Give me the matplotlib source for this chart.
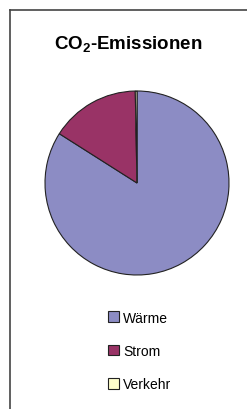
import matplotlib
matplotlib.use("Agg")
import matplotlib.pyplot as plt
from matplotlib.patches import Patch
from matplotlib.lines import Line2D

# Daten
kategorien = ["Wärme", "Strom", "Verkehr"]
anteile = [84.0, 15.7, 0.3]
farben = ["#8c8cc4", "#993366", "#ffffcc"]

plt.rcParams["font.family"] = ["Liberation Sans", "DejaVu Sans"]
plt.rcParams["mathtext.fontset"] = "custom"
plt.rcParams["mathtext.rm"] = "Liberation Sans:bold"
plt.rcParams["mathtext.bf"] = "Liberation Sans:bold"

fig = plt.figure(figsize=(2.47, 4.10), dpi=100)

# Rahmen (nur oben und links sichtbar)
fig.add_artist(Line2D([10 / 247, 10 / 247], [0, 1 - 11 / 410], transform=fig.transFigure,
                      color="#444444", lw=1.2))
fig.add_artist(Line2D([10 / 247, 1], [1 - 11 / 410, 1 - 11 / 410], transform=fig.transFigure,
                      color="#444444", lw=1.2))

# Titel
fig.text(128 / 247, 1 - 45 / 410, r"CO$_\mathrm{2}$-Emissionen", ha="center", va="center",
         fontsize=13.5, fontweight="bold")

# Kreisdiagramm
ax = fig.add_axes([(137 - 92) / 247, (410 - 184 - 92) / 410, 184 / 247, 184 / 410])
ax.pie(anteile, colors=farben, startangle=90, counterclock=False,
       wedgeprops=dict(edgecolor="#222222", linewidth=0.8))
ax.set_xlim(-1, 1)
ax.set_ylim(-1, 1)

# Legende
handles = [Patch(facecolor=c, edgecolor="#222222", linewidth=0.8) for c in farben]
fig.legend(handles, kategorien, loc="center left", bbox_to_anchor=(101 / 247, 1 - 352 / 410),
           frameon=False, fontsize=10, handlelength=0.8, handleheight=0.8,
           handletextpad=0.3, labelspacing=1.4, borderpad=0)

fig.savefig("out.png", dpi=100)
